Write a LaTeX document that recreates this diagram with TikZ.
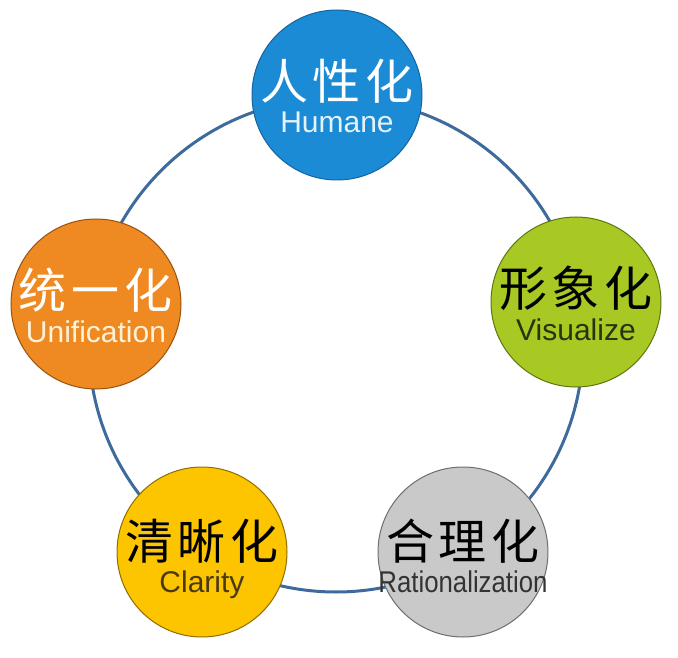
\documentclass[tikz,border=0pt]{standalone}
\usepackage{fontspec}
\setmainfont{Liberation Sans}
\newfontfamily\cjk{Noto Sans CJK SC}
\definecolor{ringc}{HTML}{3E6B9C}
\definecolor{bluef}{HTML}{1B8BD5}\definecolor{blued}{HTML}{1565A0}
\definecolor{greenf}{HTML}{A8C823}\definecolor{greend}{HTML}{5E7810}
\definecolor{greyf}{HTML}{C9C9C9}\definecolor{greyd}{HTML}{6E6E6E}
\definecolor{yellowf}{HTML}{FDC400}\definecolor{yellowd}{HTML}{8E6E00}
\definecolor{orangef}{HTML}{EF8A22}\definecolor{oranged}{HTML}{9A520C}
\definecolor{humt}{HTML}{E6F2FA}
\definecolor{vist}{HTML}{263510}
\definecolor{ratt}{HTML}{333333}
\definecolor{clat}{HTML}{4A3A14}
\definecolor{unit}{HTML}{FFF2D8}
\newcommand{\cjkword}[3]{#1\hspace{5pt}#2\hspace{5pt}#3}
\begin{document}
\begin{tikzpicture}[x=1pt,y=-1pt,
  bub/.style={circle, minimum size=170pt, inner sep=0pt, line width=1pt},
  cn/.style={anchor=base, inner sep=0pt, font=\cjk\fontsize{48}{52}\selectfont},
  en/.style={anchor=base, inner sep=0pt, font=\fontsize{30}{34}\selectfont}]
\useasboundingbox (0,0) rectangle (678,658);
\coordinate (ringc) at (336,345);
\draw[ringc, line width=3pt] (ringc) circle[radius=247pt];
% bubbles
\node[bub, fill=bluef, draw=blued] (hum) at (337,95) {};
\node[bub, fill=greenf, draw=greend] (vis) at (576,302) {};
\node[bub, fill=greyf, draw=greyd] (rat) at (463,552) {};
\node[bub, fill=yellowf, draw=yellowd] (cla) at (202,552) {};
\node[bub, fill=orangef, draw=oranged] (uni) at (96,304) {};
% texts
\node[cn, white] (humcn) at ([yshift=-4.5pt]hum.center) {\cjkword{人}{性}{化}};
\node[en, humt] (humen) at ([yshift=-38pt]hum.center) {Humane};
\node[cn, black] (viscn) at ([yshift=-4.5pt]vis.center) {\cjkword{形}{象}{化}};
\node[en, vist] (visen) at ([yshift=-38pt]vis.center) {Visualize};
\node[cn, black] (ratcn) at ([yshift=-7pt]rat.center) {\cjkword{合}{理}{化}};
\node[en, ratt] (raten) at ([yshift=-40pt]rat.center) {\scalebox{0.86}[1]{Rationalization}};
\node[cn, black] (clacn) at ([yshift=-7pt]cla.center) {\cjkword{清}{晰}{化}};
\node[en, clat] (claen) at ([yshift=-40pt]cla.center) {Clarity};
\node[cn, white] (unicn) at ([yshift=-4.5pt]uni.center) {\cjkword{统}{一}{化}};
\node[en, unit] (unien) at ([yshift=-38pt]uni.center) {Unification};
\end{tikzpicture}
\end{document}
